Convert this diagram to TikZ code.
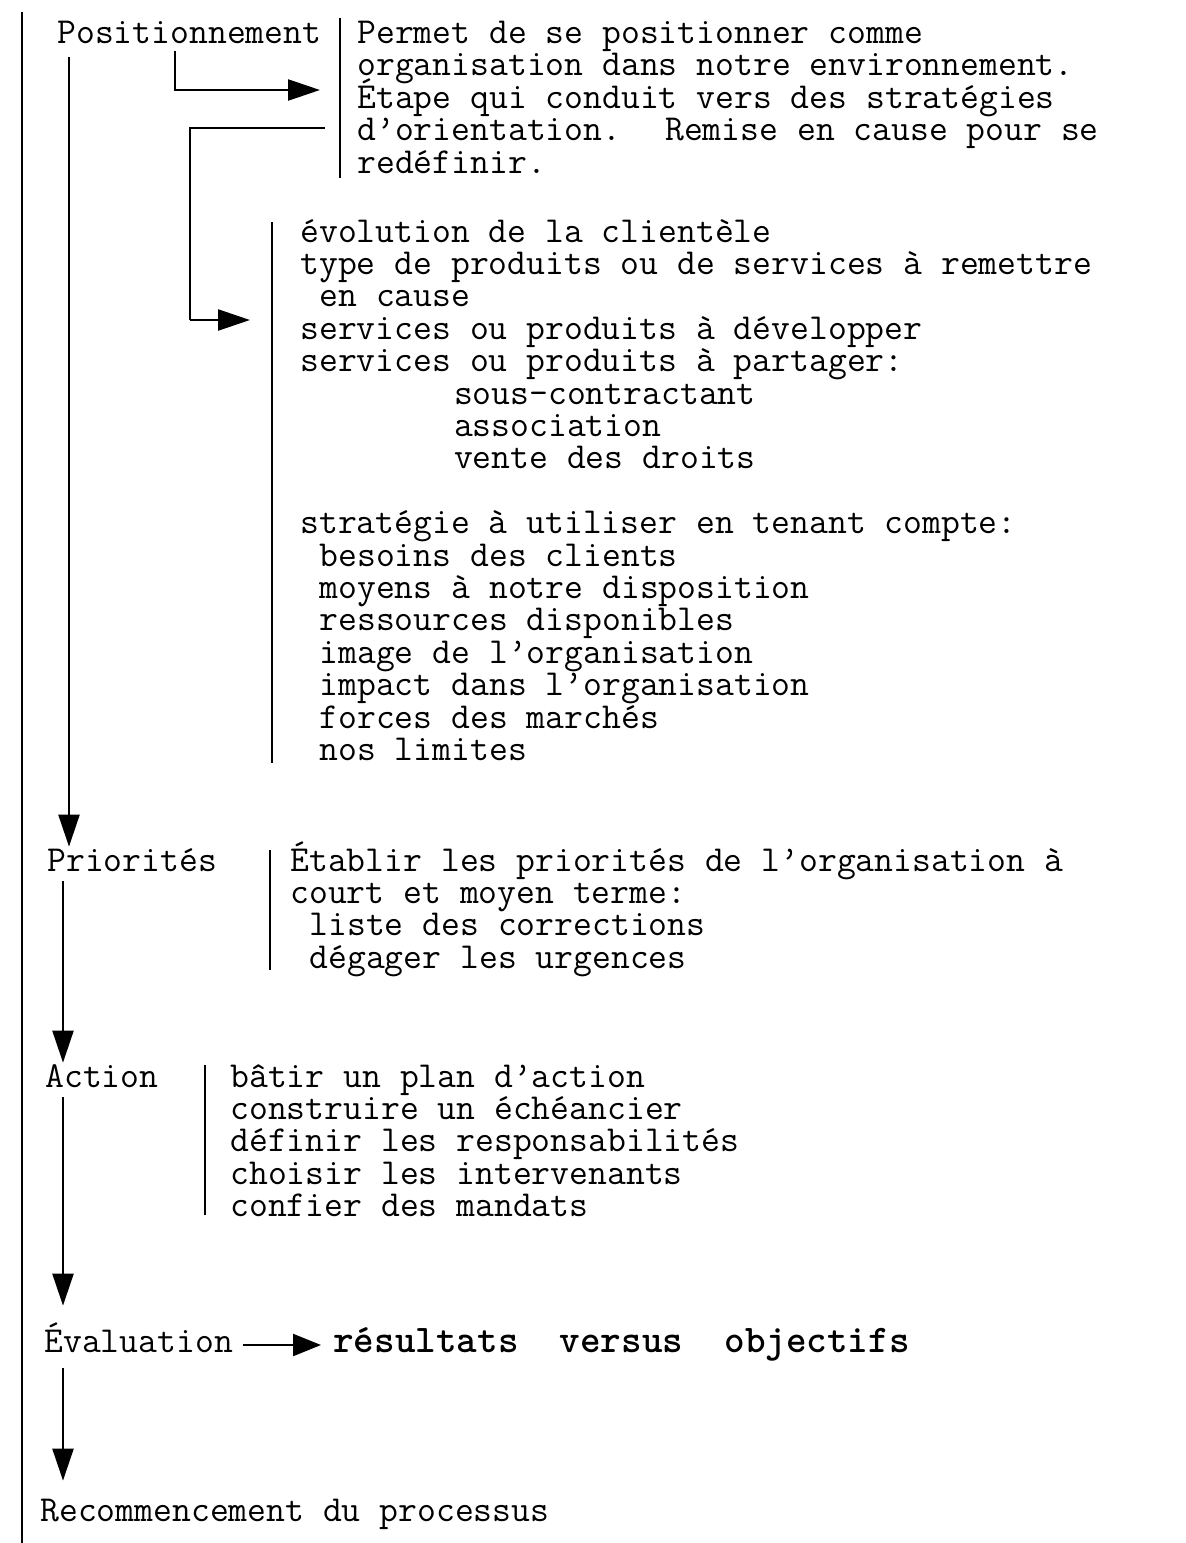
\documentclass[tikz,border=0pt]{standalone}
\usepackage{fontspec}
\usetikzlibrary{arrows.meta}

\begin{document}
\begin{tikzpicture}[x=0.5pt,y=-0.5pt,
  txt/.style={anchor=base west, inner sep=0pt, text height=11pt, text depth=4pt,
              font=\ttfamily\fontsize{18.3}{18.3}\selectfont},
  strong/.style={txt, font=\ttfamily\bfseries\fontsize{19.6}{19.6}\selectfont},
  bar/.style={line width=0.9pt},
  link/.style={line width=1.2pt},
  flow/.style={line width=1.2pt, -{Triangle[length=16pt,width=10.5pt]}},
  shortflow/.style={line width=1.2pt, -{Triangle[length=14pt,width=11pt]}},
]
\useasboundingbox (0,0) rectangle (1186,1543);

% long rule down the left margin
\draw[bar] (22,12) -- (22,1543);

% --- Positionnement -------------------------------------------------
\node[txt] (pos) at (57,43) {Positionnement};
\draw[bar] (340,18) -- (340,178);
\node[txt] (p1) at (357,43)    {Permet de se positionner comme};
\node[txt] (p2) at (357,75.6)  {organisation dans notre environnement.};
\node[txt] (p3) at (357,108.2) {Étape qui conduit vers des stratégies};
\node[txt] (p4) at (357,140.8) {d’orientation.~ Remise en cause pour se};
\node[txt] (p5) at (357,173.4) {redéfinir.};

% --- details of the repositioning ----------------------------------
\draw[bar] (272,222) -- (272,763);
\node[txt] (m0)  at (300,242.0) {évolution de la clientèle};
\node[txt] (m1)  at (300,274.4) {type de produits ou de services à remettre};
\node[txt] (m2)  at (319.2,306.8) {en cause};
\node[txt] (m3)  at (300,339.2) {services ou produits à développer};
\node[txt] (m4)  at (300,371.6) {services ou produits à partager:};
\node[txt] (m5)  at (453.6,404.0) {sous-contractant};
\node[txt] (m6)  at (453.6,436.4) {association};
\node[txt] (m7)  at (453.6,468.8) {vente des droits};
\node[txt] (m9)  at (300,533.6) {stratégie à utiliser en tenant compte:};
\node[txt] (m10) at (319.2,566.0) {besoins des clients};
\node[txt] (m11) at (319.2,598.4) {moyens à notre disposition};
\node[txt] (m12) at (319.2,630.8) {ressources disponibles};
\node[txt] (m13) at (319.2,663.2) {image de l’organisation};
\node[txt] (m14) at (319.2,695.6) {impact dans l’organisation};
\node[txt] (m15) at (319.2,728.0) {forces des marchés};
\node[txt] (m16) at (319.2,760.4) {nos limites};

% --- Priorités ------------------------------------------------------
\node[txt] (prio) at (47,871) {Priorités};
\draw[bar] (270,850) -- (270,970);
\node[txt] (r1) at (290,871.0) {Établir les priorités de l’organisation à};
\node[txt] (r2) at (290,903.4) {court et moyen terme:};
\node[txt] (r3) at (309.2,935.8) {liste des corrections};
\node[txt] (r4) at (309.2,968.2) {dégager les urgences};

% --- Action ---------------------------------------------------------
\node[txt] (act) at (45,1087) {Action};
\draw[bar] (205,1065) -- (205,1215);
\node[txt] (c1) at (230,1087.0) {bâtir un plan d’action};
\node[txt] (c2) at (230,1119.4) {construire un échéancier};
\node[txt] (c3) at (230,1151.8) {définir les responsabilités};
\node[txt] (c4) at (230,1184.2) {choisir les intervenants};
\node[txt] (c5) at (230,1216.6) {confier des mandats};

% --- Évaluation -----------------------------------------------------
\node[txt] (eval) at (44,1352) {Évaluation};
\node[strong] (res) at (333,1352) {résultats~ versus~ objectifs};

% --- Recommencement -------------------------------------------------
\node[txt] (rec) at (40,1521) {Recommencement du processus};

% --- connectors -----------------------------------------------------
\coordinate (colA) at (69,0);
\coordinate (colB) at (63,0);
\coordinate (colC) at (175,0);
\coordinate (colD) at (190,0);
\coordinate (tipA) at (320,90);
\coordinate (fromB) at (325,128);
\coordinate (tipB) at (250,320);

\draw[flow] (pos.south -| colC) |- (tipA);
\draw[link] (fromB) -| (colD |- tipB);
\draw[flow] (colD |- tipB) -- (tipB);

\draw[flow] ([yshift=-3pt]pos.south -| colA) -- ([yshift=1pt]prio.north -| colA);
\draw[flow] ([yshift=-1pt]prio.south -| colB) -- ([yshift=1pt]act.north -| colB);
\draw[flow] ([yshift=-1pt]act.south -| colB) -- ([yshift=12pt]eval.north -| colB);
\draw[shortflow] ([xshift=5pt]eval.east) -- ([xshift=-6pt]res.west);
\draw[flow] ([yshift=-4pt]eval.south -| colB) -- ([yshift=9pt]rec.north -| colB);

\end{tikzpicture}
\end{document}
